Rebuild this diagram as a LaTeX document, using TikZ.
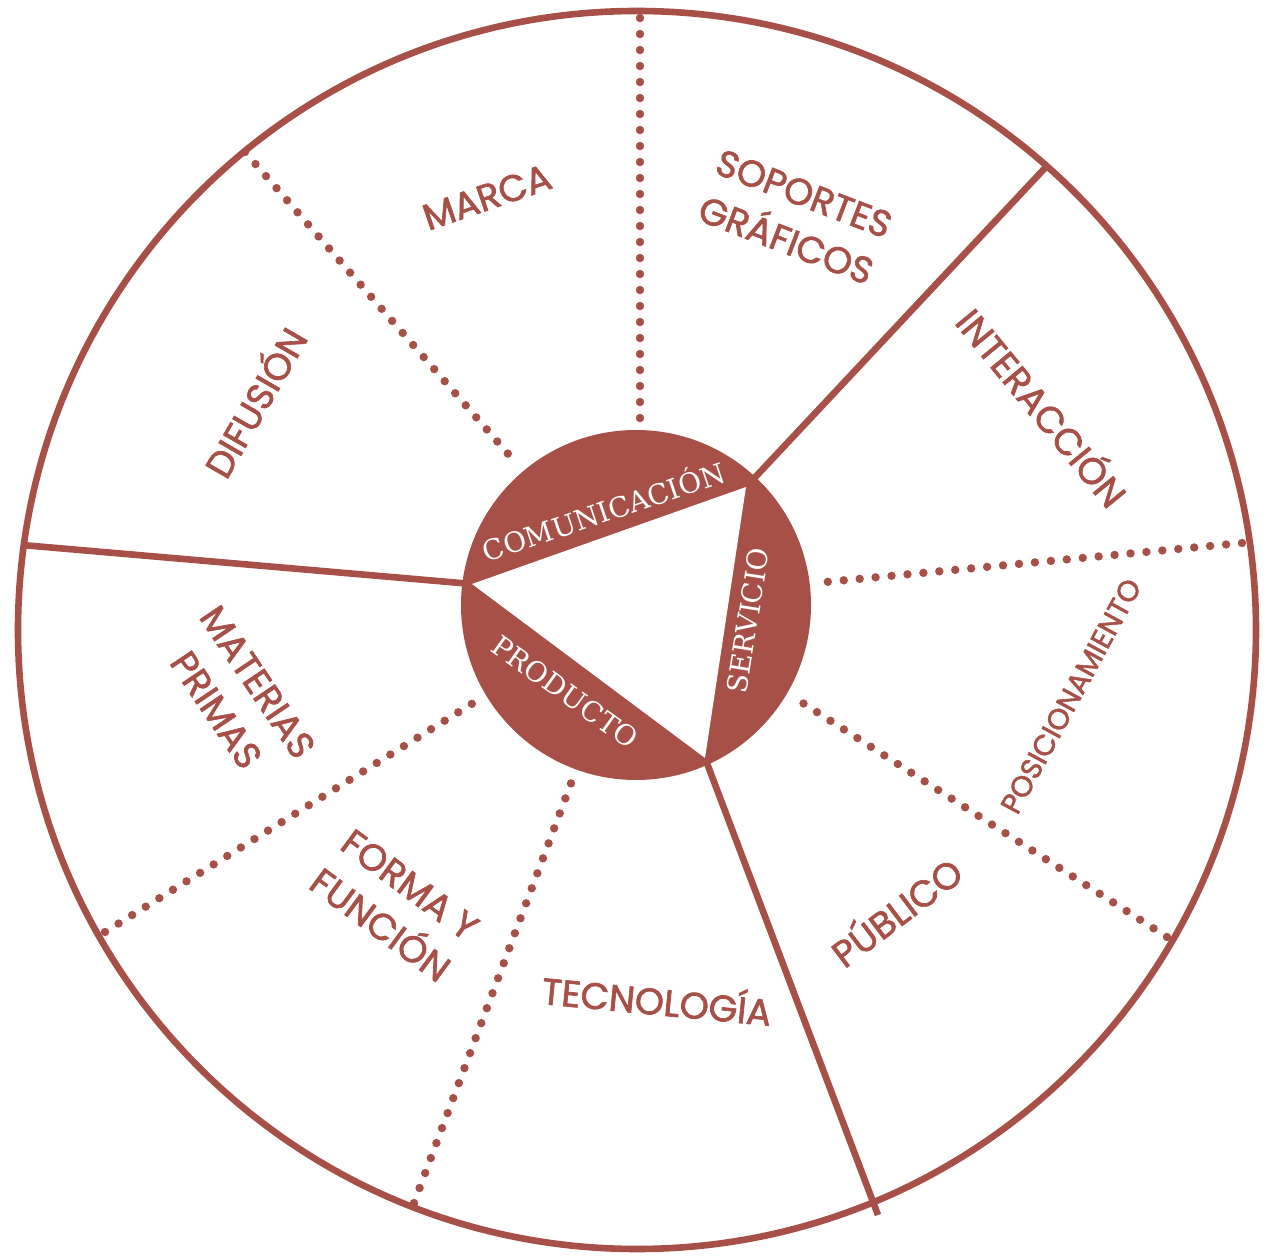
\documentclass[tikz,border=0pt]{standalone}
\usepackage{fontspec}
\setmainfont{Poppins}
\newfontfamily\labfont{Poppins}[FakeBold=1.8]
\newfontfamily\innerfont{DejaVu Serif}
\definecolor{rust}{RGB}{166,80,71}
\begin{document}
\begin{tikzpicture}[x=0.5pt,y=-0.5pt,
  solidline/.style={draw=rust,line width=3.3pt},
  dotline/.style={draw=rust,line width=4.2pt,line cap=round,dash pattern=on 0pt off 8pt},
  lab/.style={text=rust,font=\labfont\fontsize{18.5}{25}\selectfont,align=center,inner sep=0pt},
  smalllab/.style={lab,font=\labfont\fontsize{14.5}{20}\selectfont},
  inlab/.style={text=white,font=\innerfont\fontsize{14}{16}\selectfont,inner sep=0pt}]
\useasboundingbox (0,0) rectangle (1271,1256);
% centres and vertices
\coordinate (O) at (637,630);
\coordinate (I) at (636,605);
\coordinate (vA) at (746,487);
\coordinate (vB) at (472,584);
\coordinate (vC) at (705,758);
\coordinate (eA) at (1045,168);
\coordinate (eB) at (22,545);
\coordinate (eC) at (878,1215);
% dotted end points
\coordinate (d1i) at (640,425); \coordinate (d1o) at (640,18);
\coordinate (d2i) at (516,463); \coordinate (d2o) at (245,152);
\coordinate (d3i) at (815,583); \coordinate (d3o) at (1242,543);
\coordinate (d4i) at (795,698); \coordinate (d4o) at (1167,937);
\coordinate (d5i) at (478,700); \coordinate (d5o) at (105,932);
\coordinate (d6i) at (573,778); \coordinate (d6o) at (414,1203);
% outer circle
\draw[solidline] (O) circle[radius=309.5pt];
% dotted spokes
\draw[dotline] (d1o) -- (d1i);
\draw[dotline] (d2o) -- (d2i);
\draw[dotline] (d3o) -- (d3i);
\draw[dotline] (d4o) -- (d4i);
\draw[dotline] (d5o) -- (d5i);
\draw[dotline] (d6o) -- (d6i);
% solid spokes
\draw[solidline] (vA) -- (eA);
\draw[solidline] (vB) -- (eB);
\draw[solidline] (vC) -- (eC);
% inner disc and triangle
\fill[rust] (I) circle[radius=87.5pt];
\fill[white] (vA) -- (vB) -- (vC) -- cycle;
% inner labels
\node[inlab,rotate=18.7] (com) at (603,510) {COMUNICACIÓN};
\node[inlab,rotate=81] (ser) at (748,621) {SERVICIO};
\node[inlab,rotate=-35.6] (pro) at (565,692) {PRODUCTO};
% outer labels
\node[lab,rotate=19] (marca) at (487,197) {MARCA};
\node[lab,rotate=-21] (sop) at (795,217) {SOPORTES\\GRÁFICOS};
\node[lab,rotate=60] (dif) at (253,401) {DIFUSIÓN};
\node[lab,rotate=-50.6] (int) at (1044,406) {INTERACCIÓN};
\node[smalllab,rotate=61.5] (pos) at (1071,696) {POSICIONAMIENTO};
\node[lab,rotate=-56] (mat) at (237,696) {MATERIAS\\PRIMAS};
\node[lab,rotate=-36.4] (for) at (395,905) {FORMA Y\\FUNCIÓN};
\node[lab,rotate=-5.5] (tec) at (657,998) {TECNOLOGÍA};
\node[lab,rotate=37] (pub) at (895,910) {PÚBLICO};
\end{tikzpicture}
\end{document}
